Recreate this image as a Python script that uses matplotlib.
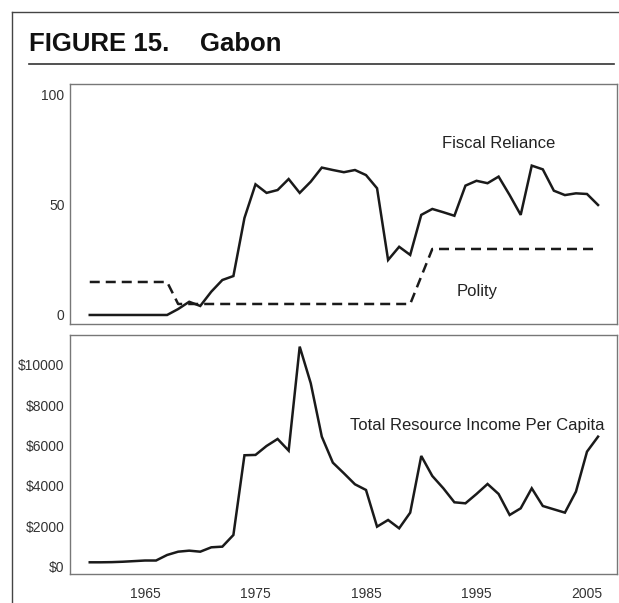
import matplotlib
matplotlib.use("Agg")
import matplotlib.pyplot as plt
from matplotlib.lines import Line2D

plt.rcParams['font.family'] = ['Liberation Sans', 'DejaVu Sans']

years = list(range(1960, 2007))

fiscal_reliance = [0, 0, 0, 0, 0, 0, 0, 0,
                   2.7, 6.0, 4.1, 10.6, 15.9, 17.7, 44.1, 59.4, 55.5, 56.8, 61.8, 55.5,
                   60.6, 67.0, 65.9, 64.9, 65.9, 63.6, 57.6, 25.0, 31.0, 27.3,
                   45.5, 48.2, 46.7, 45.1, 58.8, 61.0, 59.9, 62.9, 54.5, 45.5,
                   67.9, 66.2, 56.5, 54.5, 55.3, 55.0, 50.0]

polity = [15, 15, 15, 15, 15, 15, 15, 15,
          5, 5, 5, 5, 5, 5, 5, 5, 5, 5, 5, 5,
          5, 5, 5, 5, 5, 5, 5, 5, 5, 5,
          17.5, 30, 30, 30, 30, 30, 30, 30, 30, 30,
          30, 30, 30, 30, 30, 30, 30]

resource_income = [232, 232, 240, 260, 290, 320, 320, 593, 756, 807,
                   756, 972, 1005, 1581, 5518, 5535, 5977, 6323, 5747, 10883,
                   9073, 6437, 5153, 4627, 4084, 3804, 1992, 2322, 1910, 2684,
                   5483, 4495, 3886, 3195, 3145, 3606, 4100, 3606, 2569, 2898,
                   3886, 3013, 2848, 2684, 3721, 5697, 6437]

x_ticks = [1965, 1975, 1985, 1995, 2005]
top_yticks = [0, 50, 100]
bottom_yticks = [0, 2000, 4000, 6000, 8000, 10000]
bottom_ylabels = ['$0', '$2000', '$4000', '$6000', '$8000', '$10000']

W, H = 619, 603
fig = plt.figure(figsize=(W / 100, H / 100), dpi=100)

def fx(px):
    return px / W

def fy(py):
    return 1 - py / H

# outer frame and title rule
fig.add_artist(Line2D([fx(12), fx(12)], [fy(12), 0], color='#444444', lw=1.0))
fig.add_artist(Line2D([fx(12), 1], [fy(12), fy(12)], color='#444444', lw=1.0))
fig.add_artist(Line2D([fx(29), fx(614)], [fy(64), fy(64)], color='#333333', lw=1.2))
fig.text(fx(29), fy(51), 'FIGURE 15.', fontsize=18.5, fontweight='bold',
         ha='left', va='baseline', color='#111111')
fig.text(fx(200), fy(51), 'Gabon', fontsize=18.5, fontweight='bold',
         ha='left', va='baseline', color='#111111')

ax_left, ax_right = 70, 617
ax1 = fig.add_axes([fx(ax_left), fy(324), fx(ax_right - ax_left), (324 - 84) / H])
ax2 = fig.add_axes([fx(ax_left), fy(574), fx(ax_right - ax_left), (574 - 335) / H])

def px_to_year(px):
    return 1965 + (px - 145) / 11.05

line_kw = dict(color='#1a1a1a', lw=1.8, solid_joinstyle='miter')

ax1.plot(years, fiscal_reliance, **line_kw)
ax1.plot(years, polity, color='#1a1a1a', lw=1.8, dashes=(4, 2.4))
ax1.set_ylim(-4.1, 105)
ax1.set_yticks(top_yticks)
ax1.set_xticks([])
ax1.text(px_to_year(499), (315 - 144) / 2.2, 'Fiscal Reliance',
         fontsize=12, ha='center', va='center', color='#222222')
ax1.text(px_to_year(477), (315 - 292) / 2.2, 'Polity',
         fontsize=12, ha='center', va='center', color='#222222')

ax2.plot(years, resource_income, **line_kw)
ax2.set_ylim(-346, 11457)
ax2.set_yticks(bottom_yticks)
ax2.set_yticklabels(bottom_ylabels)
ax2.set_xticks(x_ticks)
ax2.text(px_to_year(477), (567 - 425) / 0.02025, 'Total Resource Income Per Capita',
         fontsize=12, ha='center', va='center', color='#222222')

for ax in (ax1, ax2):
    ax.set_xlim(px_to_year(ax_left), px_to_year(ax_right))
    for s in ax.spines.values():
        s.set_color('#777777')
        s.set_linewidth(1.0)
    ax.tick_params(axis='both', length=0, labelsize=10, labelcolor='#333333')
    ax.tick_params(axis='y', pad=4)
    ax.tick_params(axis='x', pad=9)

fig.savefig('out.png', dpi=100)
